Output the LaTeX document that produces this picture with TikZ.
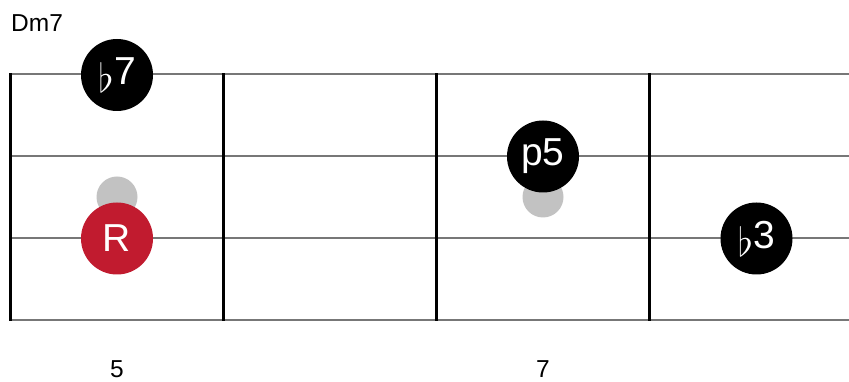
\RequirePackage{fix-cm}
\documentclass[tikz,border=0pt]{standalone}
\usepackage{fontspec}
\setmainfont{Liberation Sans}
\definecolor{stringgray}{HTML}{777777}
\definecolor{ghost}{HTML}{C2C2C2}
\definecolor{rootred}{HTML}{C11B2F}
\newcommand{\flatsym}{\raisebox{-8pt}{\fontsize{40}{40}\selectfont$\flat$}\kern0.5pt}
\begin{document}
\begin{tikzpicture}[x=1pt,y=1pt,
  stringline/.style={draw=stringgray,line width=2pt},
  fretline/.style={draw=black,line width=3pt},
  note/.style={circle,fill=black,minimum size=72pt,inner sep=0pt,text=white,font=\fontsize{39}{39}\selectfont},
  rootnote/.style={note,fill=rootred},
  ghostnote/.style={circle,fill=ghost,minimum size=41pt,inner sep=0pt},
  label/.style={font=\fontsize{24.5}{24.5}\selectfont,text=black,inner sep=0pt}]
\useasboundingbox (0,0) rectangle (849,382);
% strings
\foreach \y/\n in {307.5/s1,225.5/s2,143.5/s3,61.5/s4}{
  \coordinate (\n L) at (10.5,\y);
  \coordinate (\n R) at (849,\y);
  \draw[stringline] (\n L) -- (\n R);
}
% frets
\foreach \x/\n in {10.5/f0,223.5/f1,436.5/f2,649.5/f3}{
  \coordinate (\n T) at (\x,308.5);
  \coordinate (\n B) at (\x,60.5);
  \draw[fretline] (\n T) -- (\n B);
}
% ghost dots
\node[ghostnote] (g1) at (117,185) {};
\node[ghostnote] (g2) at (543,185) {};
% notes
\node[note] (n7) at (117,307) {\flatsym 7};
\node[rootnote] (nR) at (117,143.5) {R};
\node[note] (n5) at (543,225.5) {p5};
\node[note] (n3) at (756.5,143.5) {\flatsym 3};
% labels
\node[label,anchor=base west] (title) at (11,350) {Dm7};
\node[label,anchor=base] (fr5) at (117,4) {5};
\node[label,anchor=base] (fr7) at (543,4) {7};
\end{tikzpicture}
\end{document}
